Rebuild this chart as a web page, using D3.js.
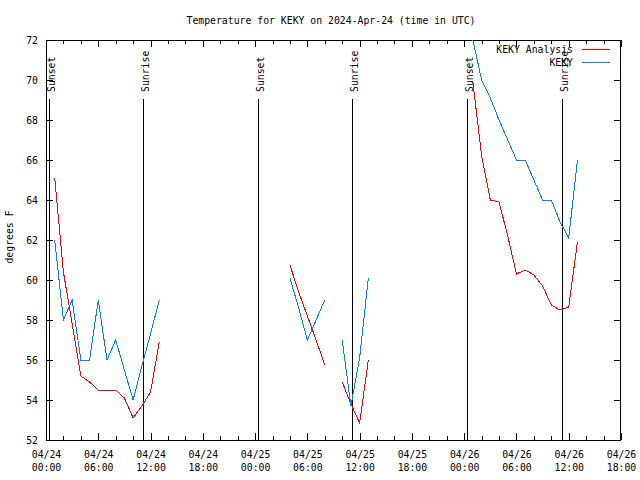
<!DOCTYPE html>
<html>
<head>
<meta charset="utf-8">
<script src="https://cdn.jsdelivr.net/npm/d3@7"></script>
<style>
  html, body { margin: 0; padding: 0; background: #fff; }
  svg { display: block; }
  text { font-family: "DejaVu Sans Mono", "Liberation Mono", monospace; font-size: 9.8px; fill: #000; }
</style>
</head>
<body>
<svg id="chart" width="640" height="480"></svg>
<script>
// ---------------- data ----------------
const chartTitle = "Temperature for KEKY on 2024-Apr-24 (time in UTC)";
const startTime = "2024-04-24T00:00:00Z";
const endTime = "2024-04-26T18:00:00Z";
const yLabel = "degrees F";
const seriesNames = ["KEKY Analysis", "KEKY"];

// hours after 04/24 00:00 UTC; null breaks the line
const analysisHours = [1,2,3,4,5,6,7,8,9,10,11,12,13, null, 28,29,30,31,32, null, 34,35,36,37, null, 49,50,51,52,53,54,55,56,57,58,59,60,61];
const analysisTemps = [65.1,60.4,57.8,55.2,54.9,54.5,54.5,54.5,54.1,53.1,53.7,54.4,56.9, null, 60.75,59.4,58.2,57.0,55.75, null, 54.9,53.8,52.85,56.0, null, 69.9,66.2,64.0,63.9,62.2,60.3,60.5,60.25,59.7,58.75,58.5,58.65,61.9];

const obsHours = [1,2,3,4,5,6,7,8,9,10,11,12,13, null, 28,29,30,31,32, null, 34,35,36,37, null, 49,50,51,52,53,54,55,56,57,58,59,60,61];
const obsTemps = [62,58,59,56,56,59,56,57,55.5,54,55.7,57.3,59, null, 60.1,58.6,57,58,59, null, 57,53.7,56.1,60.1, null, 72,70,69.1,68,67,66,66,65,64,64,62.9,62.1,66];

// sunrise / sunset events (UTC)
const eventLabels = ["Sunset", "Sunrise", "Sunset", "Sunrise", "Sunset", "Sunrise"];
const eventTimes = ["2024-04-24T00:20:00Z", "2024-04-24T11:10:00Z", "2024-04-25T00:20:00Z", "2024-04-25T11:09:00Z", "2024-04-26T00:21:00Z", "2024-04-26T11:11:00Z"];

const yMin = 52, yMax = 72, yStep = 2;

// ---------------- layout ----------------
const L = 46, R = 621, T = 40, B = 440;
const svg = d3.select("#chart");
const base = new Date(startTime);
const toDate = h => h == null ? null : new Date(base.getTime() + h * 3600e3);

const x = d3.scaleUtc().domain([new Date(startTime), new Date(endTime)]).range([L, R]);
const y = d3.scaleLinear().domain([yMin, yMax]).range([B, T]);

svg.append("defs").append("clipPath").attr("id", "clip")
  .append("rect").attr("x", L).attr("y", T).attr("width", R - L).attr("height", B - T);

// title
svg.append("text").attr("x", 331).attr("y", 24).attr("text-anchor", "middle").text(chartTitle);

// y label
svg.append("text").attr("transform", "translate(13,237) rotate(-90)").attr("text-anchor", "middle").text(yLabel);

// axes groups
const yTicks = d3.range(yMin, yMax + 0.001, yStep);
const majorX = d3.utcHour.every(6).range(x.domain()[0], new Date(x.domain()[1].getTime() + 1));
const minorX = d3.utcHour.every(2).range(x.domain()[0], new Date(x.domain()[1].getTime() + 1)).filter(d => d.getUTCHours() % 6 !== 0);

function styleAxis(g) {
  g.select(".domain").remove();
  g.selectAll("line").attr("stroke", "#000").attr("shape-rendering", "crispEdges");
  g.selectAll("text").attr("font-family", null).attr("font-size", null).attr("fill", "#000");
}

// bottom major
const xb = svg.append("g").attr("transform", `translate(0,${B})`)
  .call(d3.axisBottom(x).tickValues(majorX).tickSizeInner(-7).tickSizeOuter(0).tickPadding(0).tickFormat(""));
styleAxis(xb);
xb.selectAll(".tick").append("text").attr("text-anchor", "middle")
  .each(function(d) {
    const t = d3.select(this);
    t.append("tspan").attr("x", 0).attr("y", 18).text(d3.utcFormat("%m/%d")(d));
    t.append("tspan").attr("x", 0).attr("y", 31).text(d3.utcFormat("%H:%M")(d));
  });
// bottom minor
styleAxis(svg.append("g").attr("transform", `translate(0,${B})`)
  .call(d3.axisBottom(x).tickValues(minorX).tickSizeInner(-4).tickSizeOuter(0).tickFormat("")));
// top major / minor
styleAxis(svg.append("g").attr("transform", `translate(0,${T})`)
  .call(d3.axisTop(x).tickValues(majorX).tickSizeInner(-7).tickSizeOuter(0).tickFormat("")));
styleAxis(svg.append("g").attr("transform", `translate(0,${T})`)
  .call(d3.axisTop(x).tickValues(minorX).tickSizeInner(-4).tickSizeOuter(0).tickFormat("")));
// left
const yl = svg.append("g").attr("transform", `translate(${L},0)`)
  .call(d3.axisLeft(y).tickValues(yTicks).tickSizeInner(-7).tickSizeOuter(0).tickPadding(8).tickFormat(d3.format("d")));
styleAxis(yl);
yl.selectAll("text").attr("dy", "0.35em").attr("x", -8);
// right
styleAxis(svg.append("g").attr("transform", `translate(${R},0)`)
  .call(d3.axisRight(y).tickValues(yTicks).tickSizeInner(-7).tickSizeOuter(0).tickFormat("")));

// frame
svg.append("rect").attr("x", L + 0.5).attr("y", T + 0.5).attr("width", R - L - 1).attr("height", B - T)
  .attr("fill", "none").attr("stroke", "#000").attr("shape-rendering", "crispEdges");

// sunrise / sunset markers
const ev = svg.append("g");
eventTimes.forEach((t, i) => {
  const xp = Math.round(x(new Date(t))) + 0.5;
  ev.append("line").attr("x1", xp).attr("x2", xp).attr("y1", 99).attr("y2", B)
    .attr("stroke", "#000").attr("shape-rendering", "crispEdges");
  ev.append("text").attr("transform", `translate(${xp + 5},92) rotate(-90)`)
    .attr("text-anchor", "start").text(eventLabels[i]);
});

// data lines
function drawSeries(hours, temps, color) {
  const pts = hours.map((h, i) => ({ t: toDate(h), v: temps[i] }));
  const line = d3.line().defined(d => d.t != null && d.v != null).x(d => x(d.t)).y(d => y(d.v));
  svg.append("path").attr("d", line(pts)).attr("clip-path", "url(#clip)")
    .attr("fill", "none").attr("stroke", color).attr("stroke-width", 1)
    .attr("shape-rendering", "crispEdges");
}
const colors = ["#ff0000", "#0080ff"];
drawSeries(analysisHours, analysisTemps, colors[0]);
drawSeries(obsHours, obsTemps, colors[1]);

// legend
const lg = svg.append("g");
seriesNames.forEach((name, i) => {
  const yy = 49.5 + i * 13;
  lg.append("text").attr("x", 573).attr("y", yy + 3.5).attr("text-anchor", "end").text(name);
  lg.append("line").attr("x1", 582).attr("x2", 610).attr("y1", yy).attr("y2", yy)
    .attr("stroke", colors[i]).attr("shape-rendering", "crispEdges");
});
</script>
</body>
</html>
